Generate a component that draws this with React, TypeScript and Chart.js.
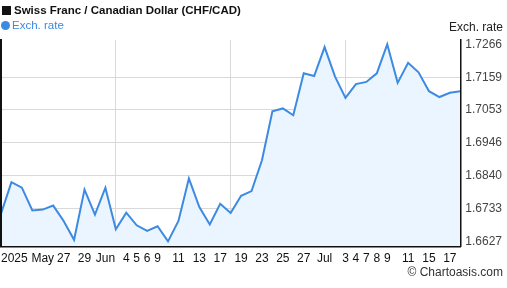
import { useEffect, useRef } from 'react';
import { Chart, registerables } from 'chart.js';

Chart.register(...registerables);

const dates = [
  '2025-05-19', '2025-05-20', '2025-05-21', '2025-05-22', '2025-05-23',
  '2025-05-26', '2025-05-27', '2025-05-28', '2025-05-29', '2025-05-30',
  '2025-06-02', '2025-06-03', '2025-06-04', '2025-06-05', '2025-06-06',
  '2025-06-09', '2025-06-10', '2025-06-11', '2025-06-12', '2025-06-13',
  '2025-06-16', '2025-06-17', '2025-06-18', '2025-06-19', '2025-06-20',
  '2025-06-23', '2025-06-24', '2025-06-25', '2025-06-26', '2025-06-27',
  '2025-06-30', '2025-07-01', '2025-07-02', '2025-07-03', '2025-07-04',
  '2025-07-07', '2025-07-08', '2025-07-09', '2025-07-10', '2025-07-11',
  '2025-07-14', '2025-07-15', '2025-07-16', '2025-07-17', '2025-07-18',
];

const tickLabels = [
  '2025', '', '', '', 'May', '', '27', '', '29', '',
  'Jun', '', '4', '5', '6', '9', '', '11', '', '13',
  '', '17', '', '19', '', '23', '', '25', '', '27',
  '', 'Jul', '', '3', '4', '7', '8', '9', '', '11',
  '', '15', '', '17', '',
];

const rates = [
  1.6717, 1.6819, 1.6801, 1.6727, 1.6730, 1.6743, 1.6693, 1.6632, 1.6795, 1.6714,
  1.6801, 1.6666, 1.6720, 1.6679, 1.6661, 1.6676, 1.6627, 1.6693, 1.6831, 1.6738,
  1.6682, 1.6749, 1.6719, 1.6775, 1.6790, 1.6890, 1.7049, 1.7058, 1.7036, 1.7172,
  1.7163, 1.7257, 1.7161, 1.7092, 1.7137, 1.7144, 1.7172, 1.7266, 1.7141, 1.7206,
  1.7175, 1.7114, 1.7095, 1.7109, 1.7114,
];

const yTicks = [1.6627, 1.6733, 1.6840, 1.6946, 1.7053, 1.7159, 1.7266];
const yMin = 1.6610;
const yMax = 1.7280;
const xGridEvery = 11;

const FONT = '"Liberation Sans", Arial, Helvetica, sans-serif';

export default function App() {
  const canvasRef = useRef<HTMLCanvasElement | null>(null);

  useEffect(() => {
    const canvas = canvasRef.current;
    if (!canvas) return;
    const chart = new Chart(canvas, {
      type: 'line',
      data: {
        labels: dates,
        datasets: [
          {
            label: 'Exch. rate',
            data: rates,
            borderColor: '#3d8ae2',
            backgroundColor: '#ebf5ff',
            borderWidth: 2,
            pointRadius: 0,
            tension: 0,
            fill: 'start',
          },
        ],
      },
      options: {
        animation: false,
        responsive: false,
        maintainAspectRatio: false,
        events: [],
        layout: { padding: { left: 1, right: 0, top: 40, bottom: 22 } },
        plugins: {
          legend: { display: false },
          title: { display: false },
          tooltip: { enabled: false },
        },
        scales: {
          x: {
            type: 'category',
            offset: false,
            grid: {
              color: (ctx: any) =>
                ctx.index !== 0 && ctx.index % xGridEvery === 0 ? '#d9d9d9' : 'rgba(0,0,0,0)',
              lineWidth: 1,
              drawTicks: true,
              tickLength: 5,
              tickColor: 'rgba(0,0,0,0)',
            },
            border: { display: true, color: '#111', width: 1.5, z: 1 },
            ticks: {
              autoSkip: false,
              maxRotation: 0,
              minRotation: 0,
              align: 'inner',
              padding: 0,
              color: '#111',
              font: { family: FONT, size: 12 },
              callback: (_v: any, i: number) => tickLabels[i],
            },
          },
          y: {
            type: 'linear',
            position: 'right',
            min: yMin,
            max: yMax,
            afterBuildTicks: (axis: any) => {
              axis.ticks = yTicks.map((v) => ({ value: v }));
            },
            grid: {
              color: (ctx: any) =>
                ctx.index === yTicks.length - 1 ? 'rgba(0,0,0,0)' : '#d9d9d9',
              drawTicks: false,
            },
            border: { display: true, color: '#111', width: 1.5, z: 1 },
            ticks: {
              padding: 5,
              color: '#444',
              font: { family: FONT, size: 12 },
              callback: (v: any) => Number(v).toFixed(4),
            },
          },
          yLeft: {
            type: 'linear',
            position: 'left',
            min: 0,
            max: 1,
            grid: { display: false, drawTicks: false },
            border: { display: true, color: '#111', width: 2, z: 1 },
            ticks: { display: false },
          },
        },
      },
    });
    return () => chart.destroy();
  }, []);

  return (
    <div
      style={{
        position: 'absolute',
        left: 0,
        top: 0,
        width: 507,
        height: 288,
        background: '#fff',
        fontFamily: FONT,
        overflow: 'hidden',
      }}
    >
      <canvas ref={canvasRef} width={507} height={288} style={{ position: 'absolute', left: 0, top: 0 }} />
      <div
        style={{
          position: 'absolute',
          left: 2,
          top: 2,
          fontSize: 11.5,
          fontWeight: 'bold',
          color: '#111',
          whiteSpace: 'nowrap',
          lineHeight: '16px',
        }}
      >
        <span
          style={{
            display: 'inline-block',
            width: 9,
            height: 9,
            background: '#111',
            marginRight: 3,
            verticalAlign: '-1px',
          }}
        />
        Swiss Franc / Canadian Dollar (CHF/CAD)
      </div>
      <div
        style={{
          position: 'absolute',
          left: 1,
          top: 17,
          fontSize: 11.5,
          color: '#3d8ae2',
          whiteSpace: 'nowrap',
          lineHeight: '16px',
        }}
      >
        <span
          style={{
            display: 'inline-block',
            width: 9,
            height: 9,
            borderRadius: '50%',
            background: '#3d8ae2',
            marginRight: 2,
            verticalAlign: '-1px',
          }}
        />
        Exch. rate
      </div>
      <div
        style={{
          position: 'absolute',
          right: 4,
          top: 19,
          fontSize: 12,
          color: '#222',
          whiteSpace: 'nowrap',
          lineHeight: '16px',
        }}
      >
        Exch. rate
      </div>
      <div
        style={{
          position: 'absolute',
          right: 4,
          top: 264,
          fontSize: 12,
          color: '#333',
          whiteSpace: 'nowrap',
          lineHeight: '16px',
        }}
      >
        © Chartoasis.com
      </div>
    </div>
  );
}
